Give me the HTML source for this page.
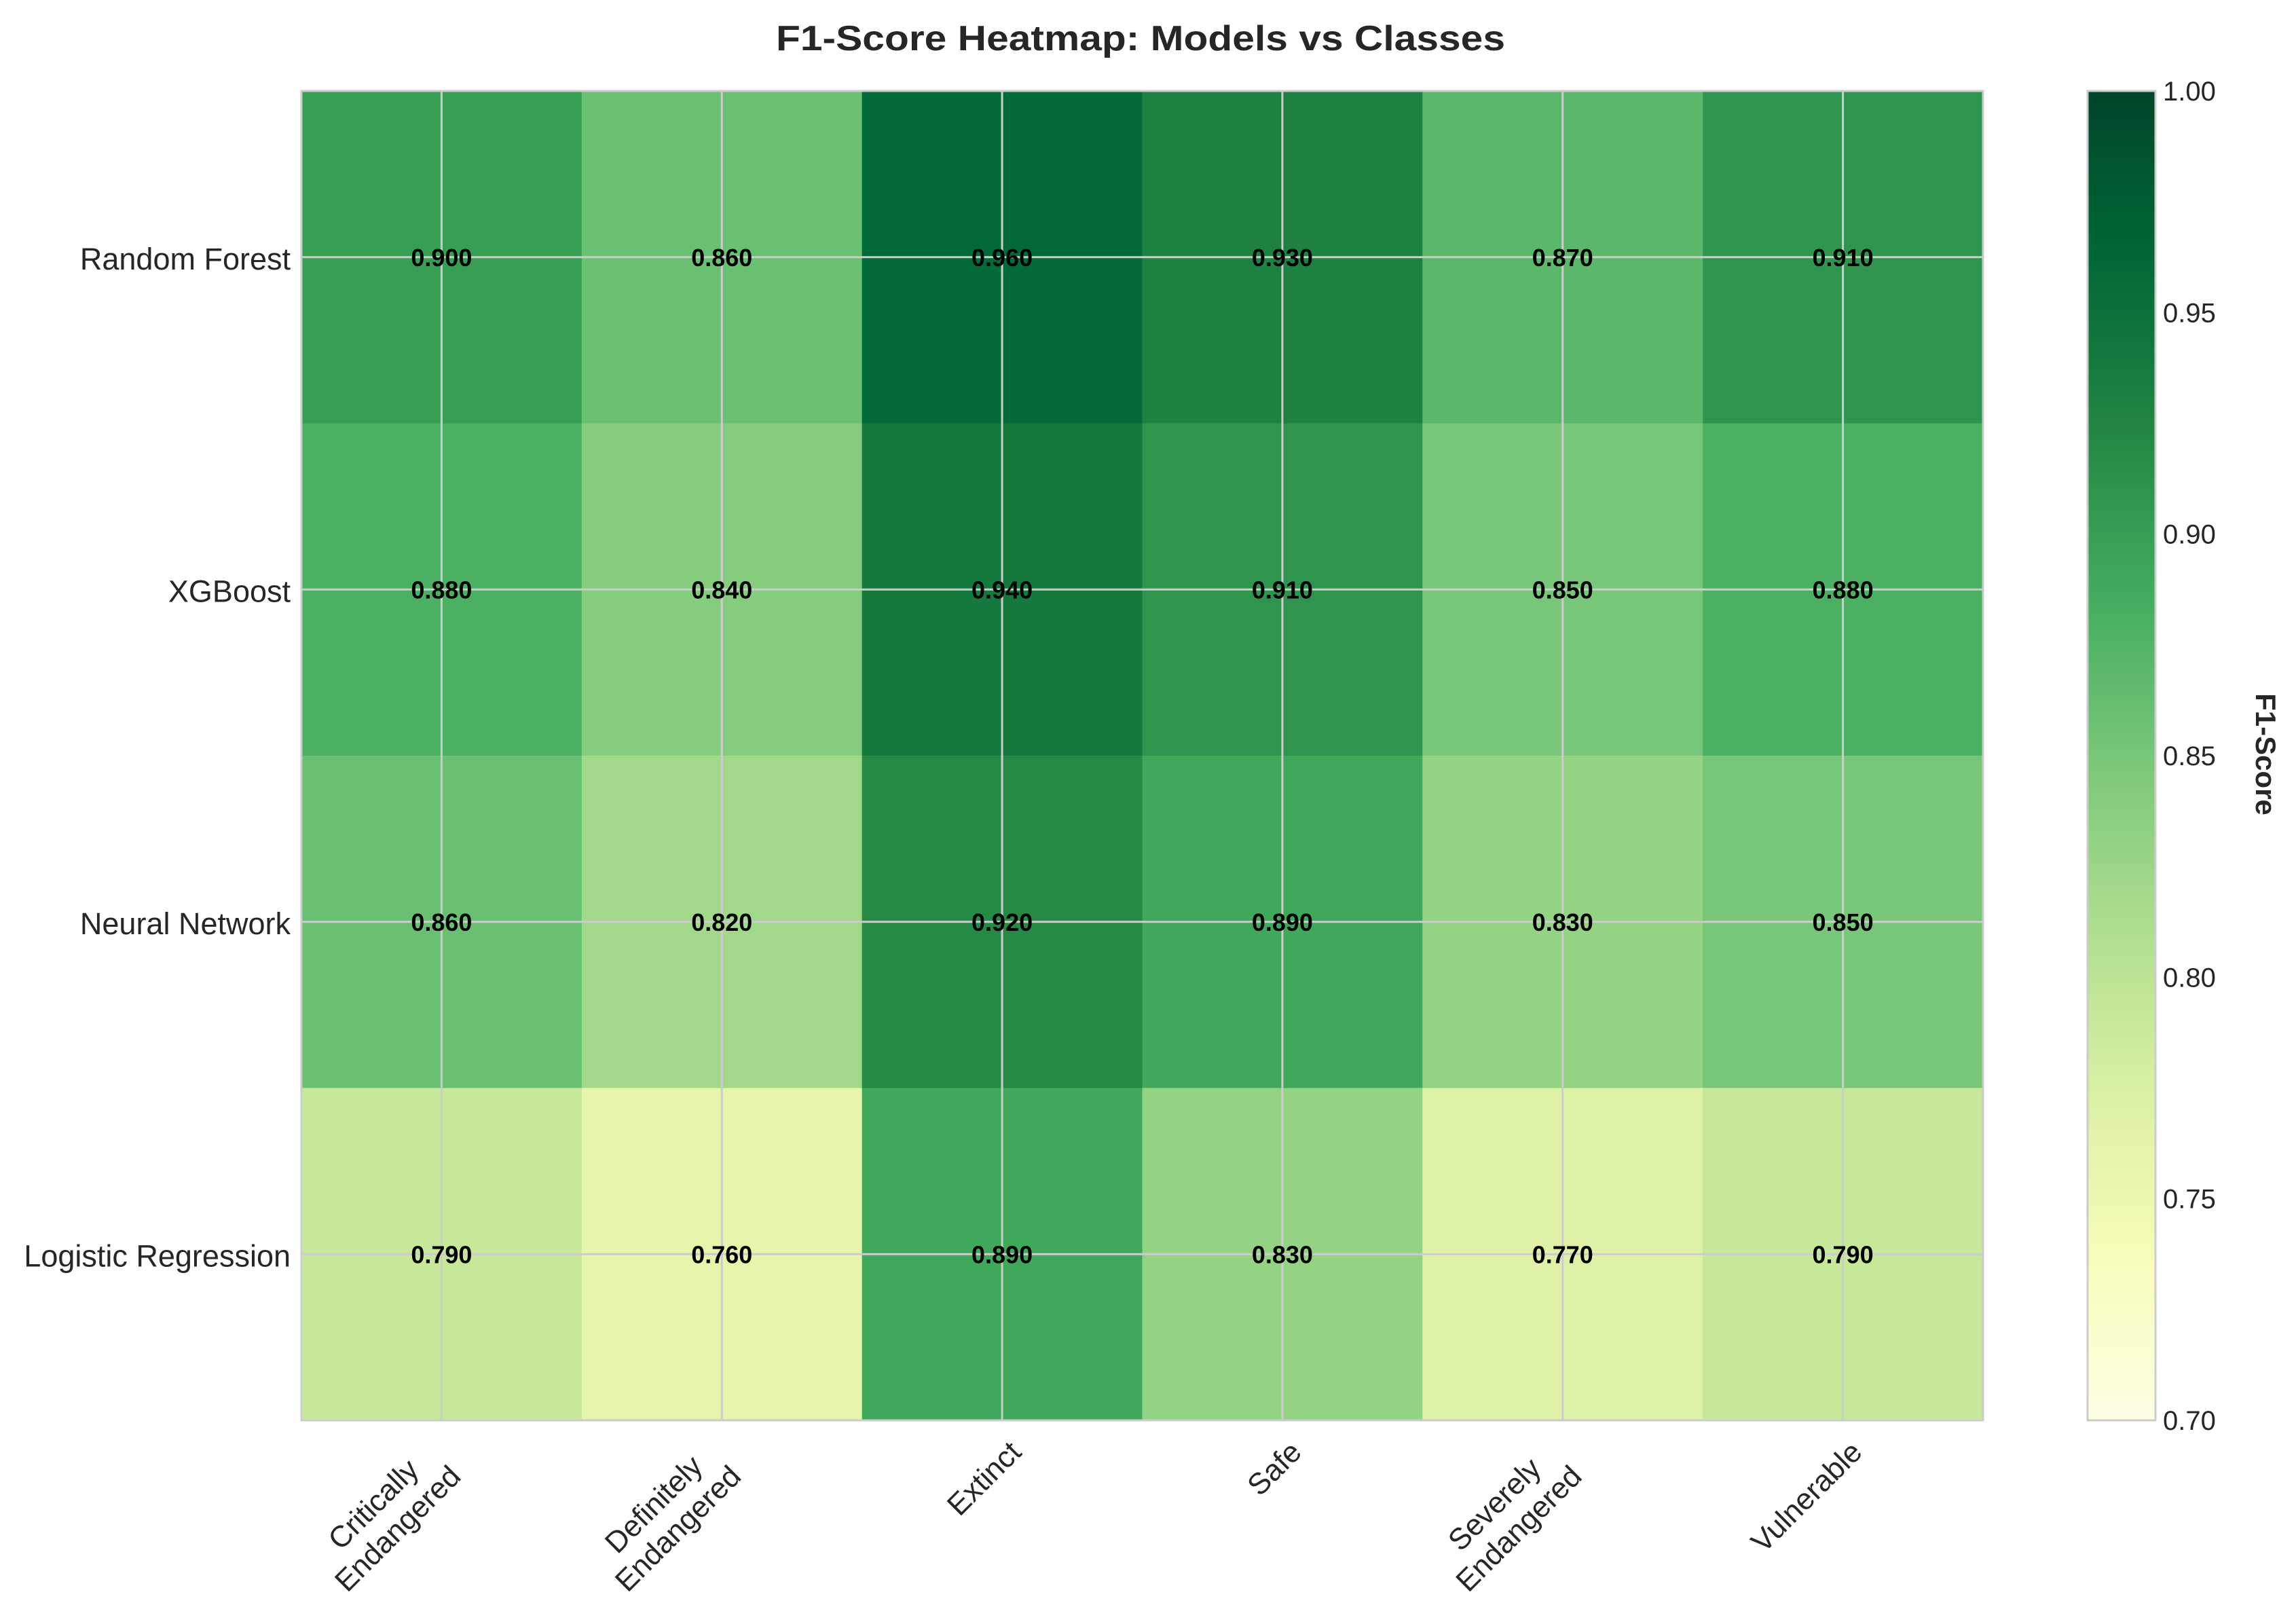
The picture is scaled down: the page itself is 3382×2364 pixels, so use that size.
<!DOCTYPE html>
<html><head><meta charset="utf-8"><style>
html,body{margin:0;padding:0;background:#fff;}
svg{display:block;font-family:"Liberation Sans",Arial,sans-serif;}
</style></head><body>
<svg id="chart" width="3382" height="2364" viewBox="0 0 3382 2364" xmlns="http://www.w3.org/2000/svg">
<rect width="3382" height="2364" fill="#fff"/>
<text x="1680" y="74" text-anchor="middle" font-size="52" font-weight="bold" fill="#262626" textLength="1074" lengthAdjust="spacingAndGlyphs">F1-Score Heatmap: Models vs Classes</text>
<defs><linearGradient id="cbgrad" x1="0" y1="1" x2="0" y2="0"></linearGradient></defs>
<g id="cells"></g><g id="grid"></g><g id="annots"></g><g id="ylabels"></g><g id="xlabels"></g>
<rect x="444" y="134" width="2477" height="1958" fill="none" stroke="#cccccc" stroke-width="3"/>
<rect x="3075" y="134" width="100" height="1958" fill="url(#cbgrad)" stroke="#cccccc" stroke-width="3"/>
<g id="cbticks"></g>
<text transform="translate(3323,1111) rotate(90)" text-anchor="middle" font-size="42" font-weight="bold" fill="#262626">F1-Score</text>
</svg>
<script>
const models = ["Random Forest","XGBoost","Neural Network","Logistic Regression"];
const classes = [["Critically","Endangered"],["Definitely","Endangered"],["Extinct"],["Safe"],["Severely","Endangered"],["Vulnerable"]];
const rfScores = [0.90,0.86,0.96,0.93,0.87,0.91];
const xgbScores = [0.88,0.84,0.94,0.91,0.85,0.88];
const nnScores = [0.86,0.82,0.92,0.89,0.83,0.85];
const lrScores = [0.79,0.76,0.89,0.83,0.77,0.79];
const cbTicks = [0.70,0.75,0.80,0.85,0.90,0.95,1.00];
const vmin = 0.7, vmax = 1.0;
const values = [rfScores, xgbScores, nnScores, lrScores];

const NS = "http://www.w3.org/2000/svg";
const PL=444, PR=2921, PT=134, PB=2092;
const cw=(PR-PL)/classes.length, ch=(PB-PT)/models.length;
const xCenter = i => PL + cw*(i+0.5);
const yCenter = j => PT + ch*(j+0.5);
const CBT=134, CBB=2092;
const cbY = v => CBB - (v-vmin)/(vmax-vmin)*(CBB-CBT);

const stops = ["#ffffe5","#f7fcb9","#d9f0a3","#addd8e","#78c679","#41ab5d","#238443","#006837","#004529"];
function hex(h){return [1,3,5].map(k=>parseInt(h.substr(k,2),16));}
function cmap(v){
  let t=Math.max(0,Math.min(1,(v-vmin)/(vmax-vmin)))*(stops.length-1);
  let i=Math.min(stops.length-2,Math.floor(t)), f=t-i;
  let a=hex(stops[i]), b=hex(stops[i+1]);
  return "rgb("+a.map((x,k)=>Math.round(x+(b[k]-x)*f)).join(",")+")";
}
function mk(tag, attrs, parent){
  const e=document.createElementNS(NS,tag);
  for(const k in attrs) e.setAttribute(k, attrs[k]);
  parent.appendChild(e); return e;
}
const grad=document.getElementById("cbgrad");
stops.forEach((s,i)=>mk("stop",{offset:(i/(stops.length-1)), "stop-color":s},grad));

const cells=document.getElementById("cells"), ann=document.getElementById("annots");
values.forEach((row,j)=>row.forEach((v,i)=>{
  const r=mk("rect",{x:PL+cw*i, y:PT+ch*j, width:cw+0.5, height:ch+0.5, fill:cmap(v)},cells);
  
  
  const t=mk("text",{x:xCenter(i), y:yCenter(j)+13, "text-anchor":"middle", "font-size":36, "font-weight":"bold", fill:"#000"},ann);
  t.textContent=v.toFixed(3);
  
  
}));
const grid=document.getElementById("grid");
classes.forEach((c,i)=>{
  const l=mk("line",{x1:xCenter(i),x2:xCenter(i),y1:PT,y2:PB,stroke:"#cccccc","stroke-width":3},grid);
  
  
});
models.forEach((m,j)=>{
  const l=mk("line",{x1:PL,x2:PR,y1:yCenter(j),y2:yCenter(j),stroke:"#cccccc","stroke-width":3},grid);
  
  
  const t=mk("text",{x:428, y:yCenter(j)+18, "text-anchor":"end", "font-size":45, fill:"#262626"},document.getElementById("ylabels"));
  t.textContent=m;
  
  
});
const xl=document.getElementById("xlabels");
const FS=44, LH=FS*1.15;
classes.forEach((lines,i)=>{
  const g=mk("g",{},xl);
  
  
  const ts=lines.map((s,k)=>{const t=mk("text",{"font-size":FS,fill:"#262626","text-anchor":"middle"},g);t.textContent=s;return t;});
  const w=Math.max(...ts.map(t=>t.getComputedTextLength()));
  const h=LH*lines.length;
  ts.forEach((t,k)=>{t.setAttribute("x",w/2);t.setAttribute("y",LH*k+FS*0.85);});
  const ox=xCenter(i)-0.7071*(w+h)+40, oy=2115+0.7071*w;
  g.setAttribute("transform","translate("+ox+","+oy+") rotate(-45)");
});
const cbt=document.getElementById("cbticks");
cbTicks.forEach(v=>{
  const t=mk("text",{x:3186, y:cbY(v)+14, "font-size":40, fill:"#262626"},cbt);
  t.textContent=v.toFixed(2);
  
  
});
</script>
</body></html>
